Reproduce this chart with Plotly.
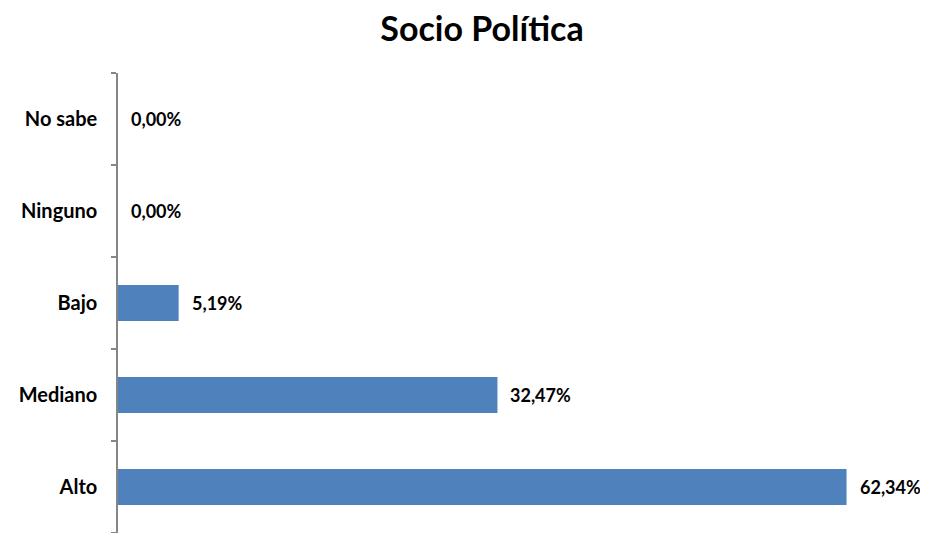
import plotly.graph_objects as go

categories = ["Alto", "Mediano", "Bajo", "Ninguno", "No sabe"]
values = [62.34, 32.47, 5.19, 0.00, 0.00]
labels = ["62,34%", "32,47%", "5,19%", "0,00%", "0,00%"]

FONT = "Lato, 'Open Sans', sans-serif"

fig = go.Figure()
fig.add_trace(go.Bar(
    y=categories, x=values, orientation="h",
    marker=dict(color="#4F81BD", line=dict(width=0)),
    hoverinfo="skip",
))

for c, v, t in zip(categories, values, labels):
    fig.add_annotation(x=v, y=c, text="<b>%s</b>" % t, showarrow=False,
                       xanchor="left", xshift=11,
                       font=dict(family=FONT, size=18, color="#000000"))

fig.update_layout(
    width=928, height=525,
    margin=dict(l=110, r=28, t=65, b=0, autoexpand=False),
    paper_bgcolor="white", plot_bgcolor="white",
    showlegend=False,
    bargap=0.61,
    title=dict(text="<b>Socio Política</b>", x=474/928, xref="container",
               xanchor="center", y=1 - 21/525, yanchor="middle",
               font=dict(family=FONT, size=34, color="#000000")),
    xaxis=dict(range=[0, 67.6], visible=False, fixedrange=True, automargin=False),
    yaxis=dict(
        categoryorder="array", categoryarray=categories,
        range=[-0.5, 4.5], automargin=False,
        showline=True, linecolor="#868686", linewidth=1.5,
        ticks="outside", tickson="boundaries", ticklen=5,
        tickcolor="#868686", tickwidth=1.5,
        showgrid=False, zeroline=False,
        ticklabelstandoff=15,
        tickfont=dict(family=FONT, size=20, color="#000000"),
    ),
    font=dict(family=FONT),
)
fig.update_yaxes(ticktext=["<b>%s</b>" % c for c in categories], tickvals=categories)

fig.write_html("out.html")
